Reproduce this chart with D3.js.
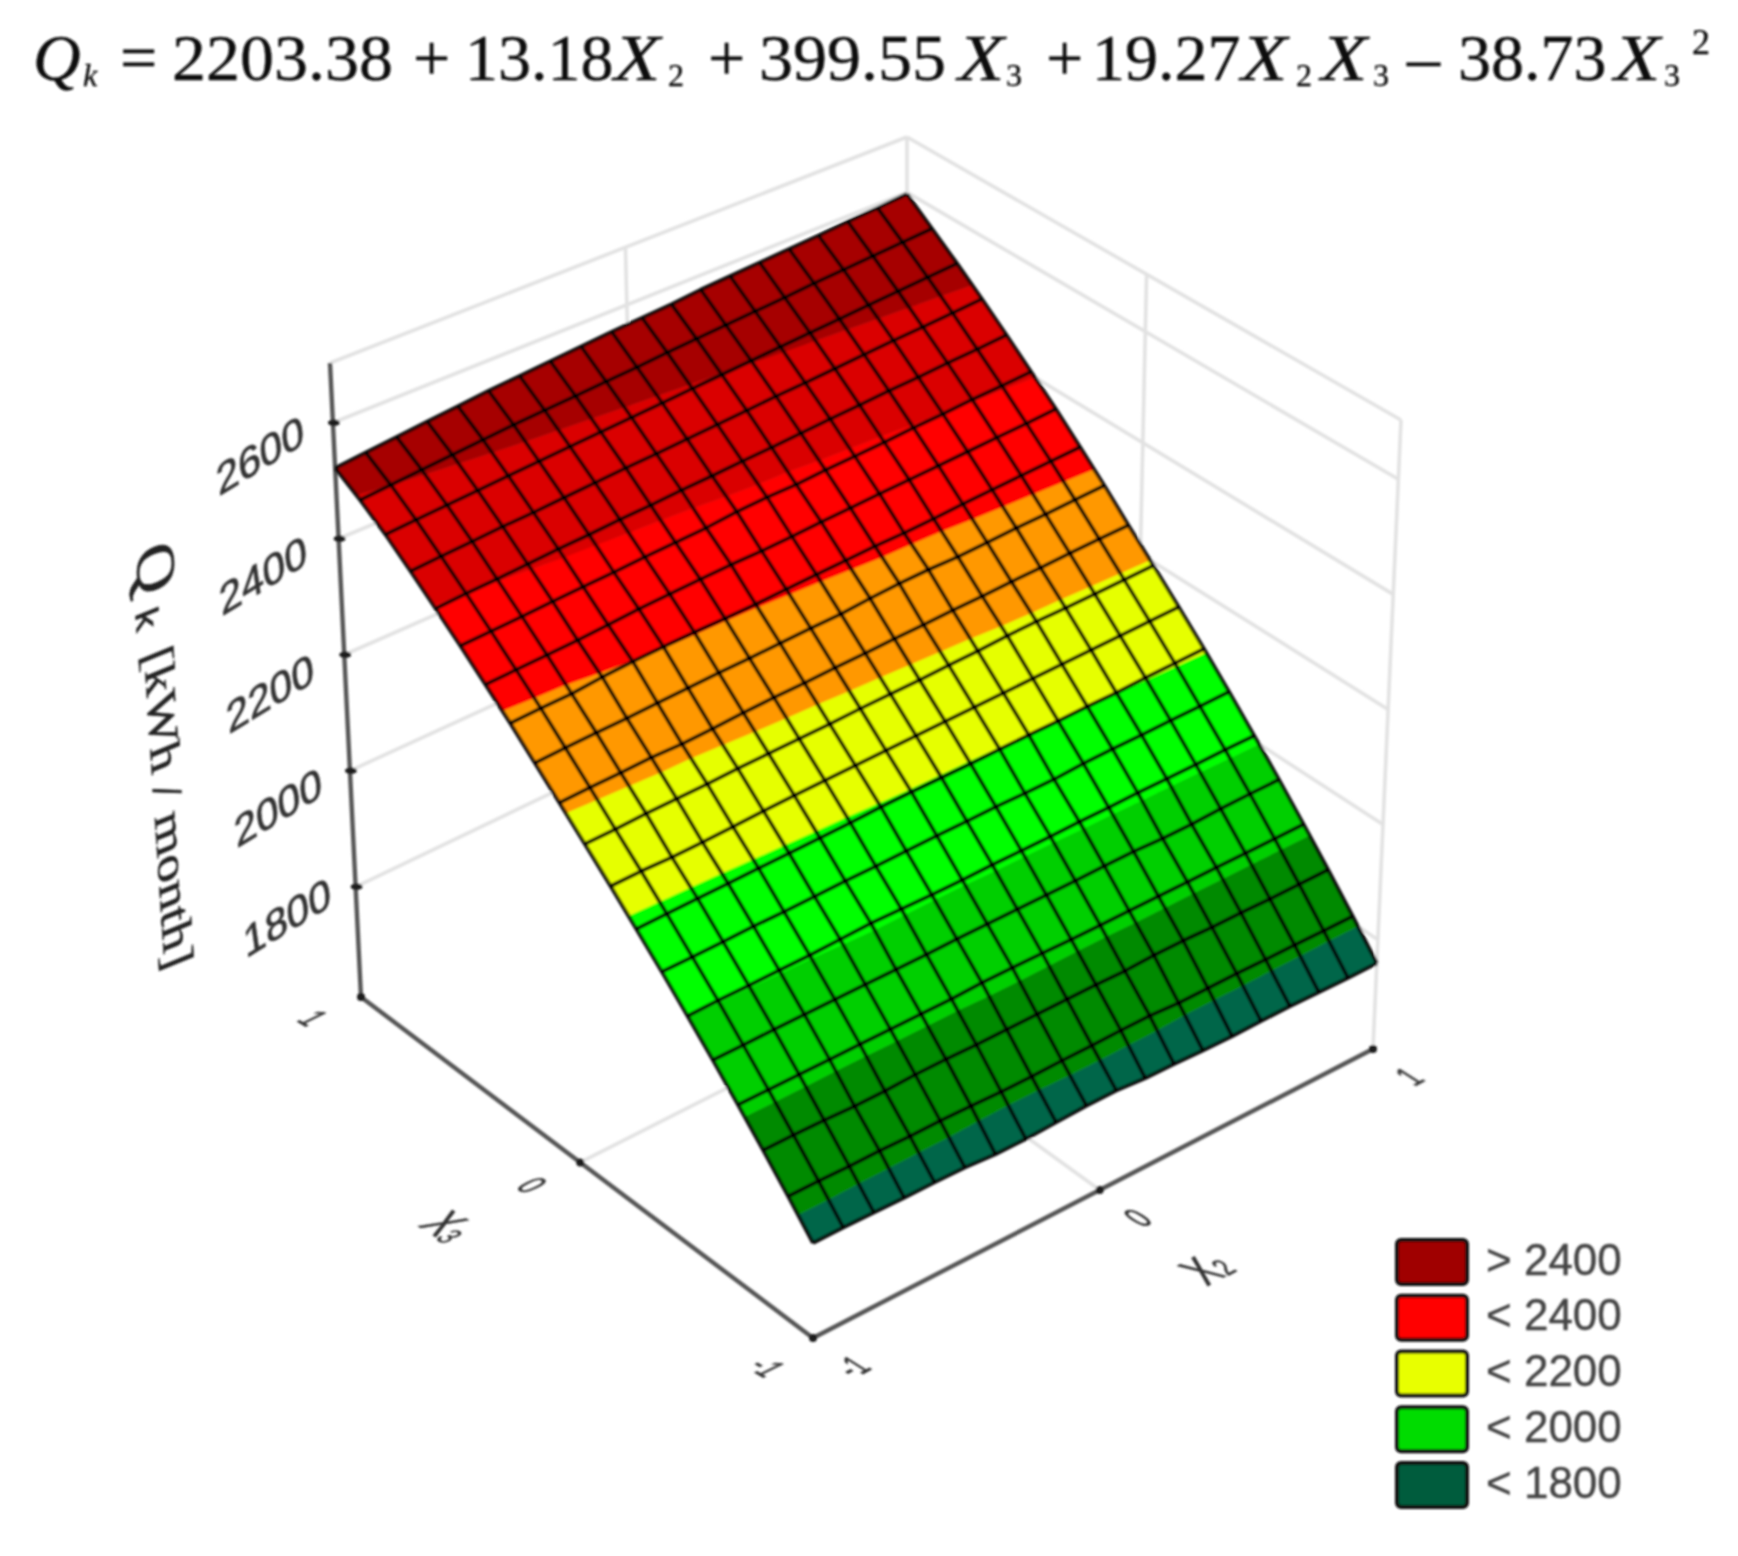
<!DOCTYPE html>
<html><head><meta charset="utf-8">
<script src="https://cdn.jsdelivr.net/npm/d3@7/dist/d3.min.js"></script>
<style>html,body{margin:0;background:#fff}svg{display:block}</style>
</head><body><svg id="c" width="1738" height="1556"></svg>
<script>
// ---------- data ----------
const x2Grid = [-1,-0.895,-0.789,-0.684,-0.579,-0.474,-0.368,-0.263,-0.158,-0.053,0.053,0.158,0.263,0.368,0.474,0.579,0.684,0.789,0.895,1];
const x3Grid = [1,0.895,0.789,0.684,0.579,0.474,0.368,0.263,0.158,0.053,-0.053,-0.158,-0.263,-0.368,-0.474,-0.579,-0.684,-0.789,-0.895,-1];
const q00 = [2522,2527,2532,2537,2542,2547,2551,2555,2559,2563,2566,2569,2574,2577,2580,2583,2586,2590,2593,2597];
const q01 = [2496,2500,2504,2508,2512,2516,2519,2522,2525,2528,2532,2535,2538,2541,2544,2548,2551,2554,2557,2560];
const q02 = [2466,2469,2472,2475,2478,2481,2484,2487,2490,2493,2496,2499,2502,2505,2508,2511,2514,2517,2520,2523];
const q03 = [2432,2435,2438,2441,2443,2446,2449,2452,2454,2457,2460,2463,2466,2468,2471,2474,2477,2479,2482,2485];
const q04 = [2397,2400,2402,2405,2408,2410,2413,2415,2418,2420,2423,2425,2428,2431,2433,2436,2438,2441,2443,2446];
const q05 = [2362,2364,2366,2369,2371,2373,2376,2378,2380,2385,2387,2387,2390,2392,2394,2397,2399,2402,2404,2406];
const q06 = [2325,2327,2329,2331,2334,2338,2340,2342,2344,2344,2346,2349,2351,2353,2355,2357,2359,2361,2363,2366];
const q07 = [2288,2290,2291,2296,2299,2301,2302,2302,2303,2305,2307,2309,2311,2311,2313,2316,2318,2320,2322,2324];
const q08 = [2249,2251,2253,2254,2256,2258,2260,2261,2263,2265,2266,2270,2273,2274,2273,2275,2277,2278,2280,2282];
const q09 = [2210,2212,2213,2215,2214,2216,2219,2221,2222,2224,2225,2227,2228,2230,2231,2233,2234,2236,2237,2238];
const q10 = [2170,2171,2173,2174,2175,2177,2178,2179,2180,2182,2183,2184,2186,2187,2190,2191,2191,2192,2193,2194];
const q11 = [2129,2130,2129,2130,2132,2134,2136,2137,2138,2139,2140,2141,2142,2143,2144,2145,2146,2147,2148,2149];
const q12 = [2087,2088,2089,2090,2091,2092,2093,2094,2096,2097,2097,2097,2098,2099,2099,2100,2100,2102,2103,2104];
const q13 = [2045,2045,2046,2047,2047,2048,2049,2049,2050,2051,2051,2052,2051,2051,2054,2055,2055,2056,2056,2057];
const q14 = [2001,2002,2002,2003,2003,2005,2007,2006,2005,2005,2006,2006,2006,2007,2007,2008,2008,2008,2009,2009];
const q15 = [1957,1957,1958,1958,1958,1958,1958,1958,1959,1959,1959,1959,1959,1960,1960,1958,1958,1960,1961,1961];
const q16 = [1912,1912,1912,1912,1912,1912,1912,1912,1914,1914,1913,1912,1912,1912,1912,1912,1912,1912,1912,1912];
const q17 = [1866,1866,1865,1863,1863,1865,1865,1864,1864,1864,1864,1864,1863,1865,1865,1863,1863,1862,1862,1862];
const q18 = [1819,1819,1818,1818,1817,1817,1816,1814,1814,1815,1815,1816,1816,1813,1813,1813,1812,1812,1811,1811];
const q19 = [1771,1771,1770,1769,1769,1768,1764,1764,1766,1768,1768,1764,1763,1761,1760,1761,1761,1760,1759,1759];
const surfaceRows = [q00,q01,q02,q03,q04,q05,q06,q07,q08,q09,q10,q11,q12,q13,q14,q15,q16,q17,q18,q19];

const zTicks = [1800,2000,2200,2400,2600];
const xTicks = [-1,0,1];
const bandLevels = [1800,1900,2000,2100,2200,2300,2400,2500];
const bandColors = ["#00664a","#008a00","#00cf00","#00ff00","#e6ff00","#ff9800","#ff0000","#da0000","#a60000"];
const legendLabels = ["> 2400","< 2400","< 2200","< 2000","< 1800"];
const legendColors = ["#a00000","#ff0000","#e8ff00","#00dc00","#005c3c"];
const zTitle = "[kWh / month]";
const eqParts = [["Q","i"],["k","si"],["=",""],["2203.38",""],["+",""],["13.18",""],["X","i"],["2","s"],["+",""],["399.55",""],["X","i"],["3","s"],["+",""],["19.27",""],["X","i"],["2","s"],["X","i"],["3","s"],["–",""],["38.73",""],["X","i"],["3","s"],["2","u"]];

// ---------- scales / projection ----------
const svg = d3.select("#c");
const defs = svg.append("defs");
defs.append("filter").attr("id","soft").attr("x","-5%").attr("y","-5%").attr("width","110%").attr("height","110%")
  .append("feGaussianBlur").attr("stdDeviation",1);

const u2 = d3.scaleLinear([-1,0,1],[0,0.512,1]);
const u3 = d3.scaleLinear([-1,0,1],[0,0.515,1]);
const zs = d3.scaleLinear([1610,2703],[0,1]);
const floorPts = {ff:[813,1338], rf:[1373,1049], lb:[361,997], bk:[907,725]};
const ceilPts  = {ff:[813,693],  rf:[1401,420],  lb:[330,363], bk:[907,137]};
function bil(c,a,b){
  const l=(p,q,t)=>[p[0]+(q[0]-p[0])*t,p[1]+(q[1]-p[1])*t];
  return l(l(c.ff,c.rf,a),l(c.lb,c.bk,a),b);
}
function project(x2,x3,z){
  const a=u2(x2),b=u3(x3),t=zs(z),f=bil(floorPts,a,b),c=bil(ceilPts,a,b);
  return [f[0]+(c[0]-f[0])*t,f[1]+(c[1]-f[1])*t];
}
const line = d3.line();
const g = svg.append("g").attr("filter","url(#soft)");

// ---------- walls and floor ----------
const [zB,zT] = zs.domain();
const wall = g.append("g").attr("fill","none").attr("stroke","#e2e2e2").attr("stroke-width",3.6);
function seg(sel,a,b){ sel.append("path").attr("d",line([a,b])); }
seg(wall,project(-1,1,zT),project(1,1,zT));
seg(wall,project(1,1,zT),project(1,-1,zT));
seg(wall,project(1,1,zT),project(1,1,zB));
seg(wall,project(1,-1,zT),project(1,-1,zB));
zTicks.forEach(z=>{
  seg(wall,project(-1,1,z),project(1,1,z));
  seg(wall,project(1,1,z),project(1,-1,z));
});
seg(wall,project(0,1,zT),project(0,1,zB));
seg(wall,project(1,0,zT),project(1,0,zB));
seg(wall,project(0,-1,zB),project(0,1,zB));
seg(wall,project(-1,0,zB),project(1,0,zB));

// ---------- axes ----------
const ax = g.append("g").attr("fill","none").attr("stroke","#555").attr("stroke-width",4.4);
seg(ax,project(-1,1,zT),project(-1,1,zB));
seg(ax,project(-1,1,zB),project(-1,-1,zB));
seg(ax,project(-1,-1,zB),project(1,-1,zB));
const tk = g.append("g").attr("fill","#1a1a1a");
zTicks.forEach(z=>{const p=project(-1,1,z);tk.append("ellipse").attr("cx",p[0]+1).attr("cy",p[1]).attr("rx",6).attr("ry",3.2);});
[project(-1,0,zB),project(0,-1,zB),project(1,-1,zB),project(-1,1,zB),project(-1,-1,zB)].forEach(p=>
  tk.append("circle").attr("cx",p[0]).attr("cy",p[1]).attr("r",4));

// ---------- surface ----------
function clip(poly,level,keepAbove){
  const out=[];
  poly.forEach((p,i)=>{
    const q=poly[(i+1)%poly.length];
    const pin=keepAbove?p.z>=level:p.z<=level, qin=keepAbove?q.z>=level:q.z<=level;
    if(pin) out.push(p);
    if(pin!==qin){const t=(level-p.z)/(q.z-p.z);
      out.push({x2:p.x2+(q.x2-p.x2)*t,x3:p.x3+(q.x3-p.x3)*t,z:level});}
  });
  return out;
}
const surf = g.append("g");
const bandEdges = [-Infinity,...bandLevels,Infinity];
const nodes = surfaceRows.map((row,i)=>row.map((z,j)=>({x2:x2Grid[j],x3:x3Grid[i],z})));
const toPath = poly => line(poly.map(p=>project(p.x2,p.x3,p.z)))+"Z";
for(let i=0;i<surfaceRows.length-1;i++)for(let j=0;j<x2Grid.length-1;j++){
  const cell=[nodes[i][j],nodes[i][j+1],nodes[i+1][j+1],nodes[i+1][j]];
  bandColors.forEach((col,k)=>{
    let poly=cell;
    if(isFinite(bandEdges[k])) poly=clip(poly,bandEdges[k],true);
    if(poly.length&&isFinite(bandEdges[k+1])) poly=clip(poly,bandEdges[k+1],false);
    if(poly.length>2) surf.append("path").attr("d",toPath(poly)).attr("fill",col).attr("stroke",col).attr("stroke-width",0.7);
  });
}
const mesh = g.append("g").attr("fill","none").attr("stroke","#000").attr("stroke-width",3.9).attr("stroke-opacity",0.88).attr("stroke-linejoin","round");
nodes.forEach(r=>mesh.append("path").attr("d",line(r.map(p=>project(p.x2,p.x3,p.z)))));
x2Grid.forEach((_,j)=>mesh.append("path").attr("d",line(nodes.map(r=>r[j]).map(p=>project(p.x2,p.x3,p.z)))));

// ---------- rotated labels ----------
const lab = svg.append("g").attr("filter","url(#soft)").attr("fill","#333").attr("stroke","#333").attr("stroke-width",0.5).attr("font-family","'Liberation Sans'");
function mat(x,y,ex,ey){return `matrix(${ex[0]},${ex[1]},${ey[0]},${ey[1]},${x},${y})`;}
const zLabelPos = [[287,917],[278,807],[270,693],[263,575],[260,455]];
zTicks.forEach((z,i)=>lab.append("text").text(z).attr("font-size",30).attr("text-anchor","middle")
   .attr("dominant-baseline","central")
   .attr("transform",mat(zLabelPos[i][0],zLabelPos[i][1],[1.3,-0.8],[0.2,1.4])));
const x3m=[[0.72,0.44],[-1.22,0.6]], x2m=[[0.75,-0.41],[1.13,0.72]];
[[1,313,1018],[0,532,1185],[-1,767,1367]].forEach(d=>lab.append("text").text(d[0]).attr("font-size",28).attr("text-anchor","middle").attr("dominant-baseline","central")
   .attr("transform",mat(d[1],d[2],x3m[0],x3m[1])));
[[-1,853,1367],[0,1138,1218],[1,1410,1077]].forEach(d=>lab.append("text").text(d[0]).attr("font-size",28).attr("text-anchor","middle").attr("dominant-baseline","central")
   .attr("transform",mat(d[1],d[2],x2m[0],x2m[1])));
const x3L=lab.append("text").attr("font-size",40).attr("dominant-baseline","central").attr("text-anchor","middle").attr("transform",mat(449,1226,x3m[0],x3m[1]));
x3L.append("tspan").text("X"); x3L.append("tspan").text("3").attr("font-size",24).attr("dy",7);
const x2L=lab.append("text").attr("font-size",40).attr("dominant-baseline","central").attr("text-anchor","middle").attr("transform",mat(1206,1268,x2m[0],x2m[1]));
x2L.append("tspan").text("X"); x2L.append("tspan").text("2").attr("font-size",24).attr("dy",7);

// axis title
const ttl = lab.append("g").attr("font-family","'Liberation Serif'").attr("fill","#222").attr("stroke","#222");
ttl.append("text").text("Q").attr("font-size",44).attr("text-anchor","middle").attr("dominant-baseline","central")
  .attr("transform",mat(156,568,[0.1,1.5],[-1.25,0.5]));
ttl.append("text").text("k").attr("font-size",24).attr("font-family","'Liberation Sans'").attr("text-anchor","middle").attr("dominant-baseline","central")
  .attr("transform",mat(147,619,[0.1,1.6],[-1.3,0.53]));
ttl.append("text").text(zTitle).attr("font-size",44).attr("text-anchor","start").attr("dominant-baseline","central")
  .attr("transform",mat(158,648,[0.08,1.22],[-0.95,0.39]));

// ---------- equation ----------
const eqX = [33,83,120,172,413,465,614,668,708,759,958,1006,1046,1092,1241,1296,1321,1373,1407,1458,1614,1664,1692];
const eq = svg.append("g").attr("font-family","'Liberation Serif'").attr("font-size",66).attr("fill","#111").attr("stroke","#111").attr("stroke-width",0.4).attr("filter","url(#soft)");
eqParts.forEach((p,i)=>{
  const t=eq.append("text").text(p[0]);
  let y=80, sx=1;
  if(p[1]==="i"||p[1]==="si") t.attr("font-style","italic");
  if(p[0]==="X") sx=1.15;
  if(p[0].length>6) sx=1.03;
  if(p[0]==="399.55") sx=1.03;
  if(p[1]==="s"||p[1]==="si"){t.attr("font-size",32);y=86;}
  if(p[1]==="u"){t.attr("font-size",36);y=54;}
  t.attr("transform",`translate(${eqX[i]},${y}) scale(${sx},1)`);
});

// ---------- legend ----------
const leg = svg.append("g").attr("filter","url(#soft)");
const legY = d3.scalePoint().domain(legendLabels).range([1262,1485]);
legendLabels.forEach((l,i)=>{
  const y=legY(l);
  leg.append("rect").attr("x",1397).attr("y",y-22).attr("width",70).attr("height",44).attr("rx",4)
    .attr("fill",legendColors[i]).attr("stroke","#111").attr("stroke-width",4);
  leg.append("text").text(l).attr("x",1486).attr("y",y-3).attr("dominant-baseline","central")
    .attr("font-family","'Liberation Sans'").attr("font-size",44).attr("fill","#444").attr("stroke","#444").attr("stroke-width",0.4);
});
</script></body></html>
